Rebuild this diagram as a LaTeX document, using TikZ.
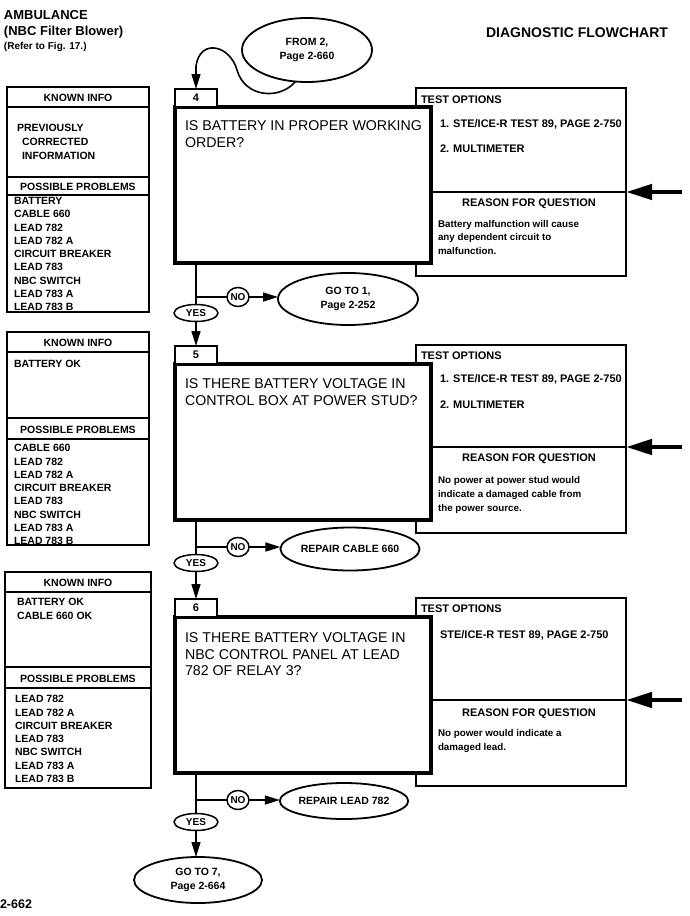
\documentclass[tikz,border=0pt]{standalone}
\usepackage{fontspec}
\setmainfont{Liberation Sans}
\usetikzlibrary{arrows.meta,shapes.geometric}
\newcommand\fHead{\bfseries\fontsize{13}{15}\selectfont}
\newcommand\fTitle{\bfseries\fontsize{14}{16}\selectfont}
\newcommand\fRef{\bfseries\fontsize{10}{12}\selectfont}
\newcommand\fItem{\bfseries\fontsize{10.5}{13.25}\selectfont}
\newcommand\fOpt{\bfseries\fontsize{11}{13.25}\selectfont}
\newcommand\fQ{\fontsize{14.2}{16.5}\selectfont}
\newcommand\fReason{\bfseries\fontsize{9.8}{13.8}\selectfont}
\newcommand\fYN{\bfseries\fontsize{10}{12}\selectfont}
\begin{document}
\begin{tikzpicture}[x=1pt,y=-1pt,
  every node/.style={inner sep=0pt, outer sep=0pt},
  frame/.style={draw, line width=1.2pt},
  lbl/.style={draw, line width=1.2pt, fill=white, minimum width=42pt, minimum height=18pt, font=\fOpt},
  qbox/.style={draw, line width=4pt, fill=white, minimum width=256pt, minimum height=156pt},
  tbox/.style={draw, line width=1.4pt, minimum width=210pt, minimum height=188pt, anchor=north west},
  oval/.style={ellipse, draw, line width=1.8pt, fill=white, align=center, font=\fItem},
  yn/.style={ellipse, draw, line width=1.5pt, fill=white, font=\fYN},
  flow/.style={line width=1.6pt},
  arr/.style={flow, -{Triangle[length=15pt,width=9pt]}},
  bigarr/.style={line width=4.5pt, -{Triangle[length=26pt,width=15pt]}},
  txt/.style={anchor=base west, align=left},
  mtxt/.style={anchor=north west, align=left},
]
\useasboundingbox (0,0) rectangle (689,916);

% ---------- header ----------
\node[txt, font=\fHead] (amb) at (4,19) {AMBULANCE};
\node[txt, font=\fHead] (nbc) at (4,35) {(NBC Filter Blower)};
\node[txt, font=\fRef] (ref) at (4,49) {(Refer to Fig. 17.)};
\node[anchor=base east, font=\fTitle] (diag) at (668,37) {DIAGNOSTIC FLOWCHART};
\node[txt, font=\bfseries\fontsize{12.5}{14}\selectfont] (pg) at (0,908) {2-662};

% ---------- left boxes ----------
\draw[frame] (7,87) rectangle (149,312);
\draw[frame] (7,107) -- (149,107);
\draw[frame] (7,177) -- (149,177);
\draw[frame] (7,195) -- (149,195);
\node[anchor=base, font=\fItem] (kA) at (78,101) {KNOWN INFO};
\node[txt, font=\fItem] (kA1) at (17,131) {PREVIOUSLY};
\node[txt, font=\fItem] (kA2) at (22,145.5) {CORRECTED};
\node[txt, font=\fItem] (kA3) at (22,159) {INFORMATION};
\node[anchor=base, font=\fItem] (pA) at (78,190) {POSSIBLE PROBLEMS};
\node[mtxt, font=\fItem] (pA1) at (14,197.5) {BATTERY\\CABLE 660\\LEAD 782\\LEAD 782 A\\CIRCUIT BREAKER\\LEAD 783\\NBC SWITCH\\LEAD 783 A\\LEAD 783 B};

\draw[frame] (7,332) rectangle (149,545);
\draw[frame] (7,352) -- (149,352);
\draw[frame] (7,418) -- (149,418);
\draw[frame] (7,439) -- (149,439);
\node[anchor=base, font=\fItem] (kB) at (78,346) {KNOWN INFO};
\node[txt, font=\fItem] (kB1) at (14,367) {BATTERY OK};
\node[anchor=base, font=\fItem] (pB) at (78,433) {POSSIBLE PROBLEMS};
\node[mtxt, font=\fItem] (pB1) at (14,444.5) {CABLE 660\\LEAD 782\\LEAD 782 A\\CIRCUIT BREAKER\\LEAD 783\\NBC SWITCH\\LEAD 783 A\\LEAD 783 B};

\draw[frame] (5,572) rectangle (151,788);
\draw[frame] (5,592) -- (151,592);
\draw[frame] (5,667) -- (151,667);
\draw[frame] (5,688) -- (151,688);
\node[anchor=base, font=\fItem] (kC) at (78,586) {KNOWN INFO};
\node[mtxt, font=\fItem] (kC1) at (17,598.5) {BATTERY OK\\CABLE 660 OK};
\node[anchor=base, font=\fItem] (pC) at (78,682) {POSSIBLE PROBLEMS};
\node[mtxt, font=\fItem] (pC1) at (15,695.5) {LEAD 782\\LEAD 782 A\\CIRCUIT BREAKER\\LEAD 783\\NBC SWITCH\\LEAD 783 A\\LEAD 783 B};

% ---------- block 4 ----------
\node[tbox] (t4) at (416,88) {};
\node[qbox] (q4) at (303,185) {};
\node[lbl, anchor=south] (l4) at (196,107) {4};
\path (t4.north east) ++(0,104) coordinate (d4);
\path (d4) ++(56,0) coordinate (e4);
\draw[frame] (d4) -- (d4 -| q4.east);
\draw[bigarr] (e4) -- (d4);
\node[txt, font=\fOpt] (to4) at (421,103) {TEST OPTIONS};
\node[txt, font=\fOpt] (o4a) at (440,127) {1. STE/ICE-R TEST 89, PAGE 2-750};
\node[txt, font=\fOpt] (o4b) at (440,152) {2. MULTIMETER};
\node[anchor=base, font=\fOpt] (r4h) at (529,206) {REASON FOR QUESTION};
\node[mtxt, font=\fReason] (r4) at (438,220) {Battery malfunction will cause\\any dependent circuit to\\malfunction.};
\node[mtxt, font=\fQ] (qt4) at (185,121) {IS BATTERY IN PROPER WORKING\\ORDER?};

\node[oval, minimum width=130pt, minimum height=64pt] (f2) at (307,50) {FROM 2,\\Page 2-660};
\draw[arr] (f2.250) .. controls (280,100) and (245,98) .. (237,70) .. controls (230,45) and (200,38) .. (196,66) -- (l4.north);

\coordinate (j4) at (196,297);
\node[yn, minimum width=44pt, minimum height=17pt] (y4) at (196,313) {YES};
\node[yn, minimum width=22pt, minimum height=19pt] (no4) at (238,297) {NO};
\node[oval, minimum width=140pt, minimum height=52pt] (g1) at (348,299) {GO TO 1,\\Page 2-252};
\draw[flow] (l4.south |- q4.south) -- (y4.north);
\draw[flow] (j4) -- (no4.west);
\draw[arr] (no4.east) -- (g1.west |- no4.east);

% ---------- block 5 ----------
\node[tbox] (t5) at (416,345) {};
\node[qbox] (q5) at (303,442) {};
\node[lbl, anchor=south] (l5) at (196,364) {5};
\path (t5.north east) ++(0,102) coordinate (d5);
\path (d5) ++(56,0) coordinate (e5);
\draw[frame] (d5) -- (d5 -| q5.east);
\draw[bigarr] (e5) -- (d5);
\node[txt, font=\fOpt] (to5) at (421,359) {TEST OPTIONS};
\node[txt, font=\fOpt] (o5a) at (440,382) {1. STE/ICE-R TEST 89, PAGE 2-750};
\node[txt, font=\fOpt] (o5b) at (440,408) {2. MULTIMETER};
\node[anchor=base, font=\fOpt] (r5h) at (529,461) {REASON FOR QUESTION};
\node[mtxt, font=\fReason] (r5) at (438,476.3) {No power at power stud would\\indicate a damaged cable from\\the power source.};
\node[mtxt, font=\fQ] (qt5) at (185,379) {IS THERE BATTERY VOLTAGE IN\\CONTROL BOX AT POWER STUD?};
\draw[arr] (y4.south) -- (l5.north);

\coordinate (j5) at (196,547);
\node[yn, minimum width=44pt, minimum height=17pt] (y5) at (196,563) {YES};
\node[yn, minimum width=22pt, minimum height=19pt] (no5) at (238,547) {NO};
\node[oval, minimum width=135pt, minimum height=43pt] (rc) at (350,549) {REPAIR CABLE 660};
\draw[flow] (l5.south |- q5.south) -- (y5.north);
\draw[flow] (j5) -- (no5.west);
\draw[arr] (no5.east) -- (rc.west |- no5.east);

% ---------- block 6 ----------
\node[tbox] (t6) at (416,598) {};
\node[qbox] (q6) at (303,695) {};
\node[lbl, anchor=south] (l6) at (196,617) {6};
\path (t6.north east) ++(0,102) coordinate (d6);
\path (d6) ++(56,0) coordinate (e6);
\draw[frame] (d6) -- (d6 -| q6.east);
\draw[bigarr] (e6) -- (d6);
\node[txt, font=\fOpt] (to6) at (421,612) {TEST OPTIONS};
\node[txt, font=\fOpt] (o6a) at (440,638) {STE/ICE-R TEST 89, PAGE 2-750};
\node[anchor=base, font=\fOpt] (r6h) at (529,716) {REASON FOR QUESTION};
\node[mtxt, font=\fReason] (r6) at (438,729.3) {No power would indicate a\\damaged lead.};
\node[mtxt, font=\fQ] (qt6) at (185,633) {IS THERE BATTERY VOLTAGE IN\\NBC CONTROL PANEL AT LEAD\\782 OF RELAY 3?};
\draw[arr] (y5.south) -- (l6.north);

\coordinate (j6) at (196,800);
\node[yn, minimum width=44pt, minimum height=17pt] (y6) at (196,822) {YES};
\node[yn, minimum width=22pt, minimum height=19pt] (no6) at (238,800) {NO};
\node[oval, minimum width=118pt, minimum height=36pt] (rl) at (344,801) {REPAIR LEAD 782};
\node[oval, minimum width=128pt, minimum height=46pt] (g7) at (198,880) {GO TO 7,\\Page 2-664};
\draw[flow] (l6.south |- q6.south) -- (y6.north);
\draw[flow] (j6) -- (no6.west);
\draw[arr] (no6.east) -- (rl.west |- no6.east);
\draw[arr] (y6.south) -- (g7.north -| y6.south);
\end{tikzpicture}
\end{document}
